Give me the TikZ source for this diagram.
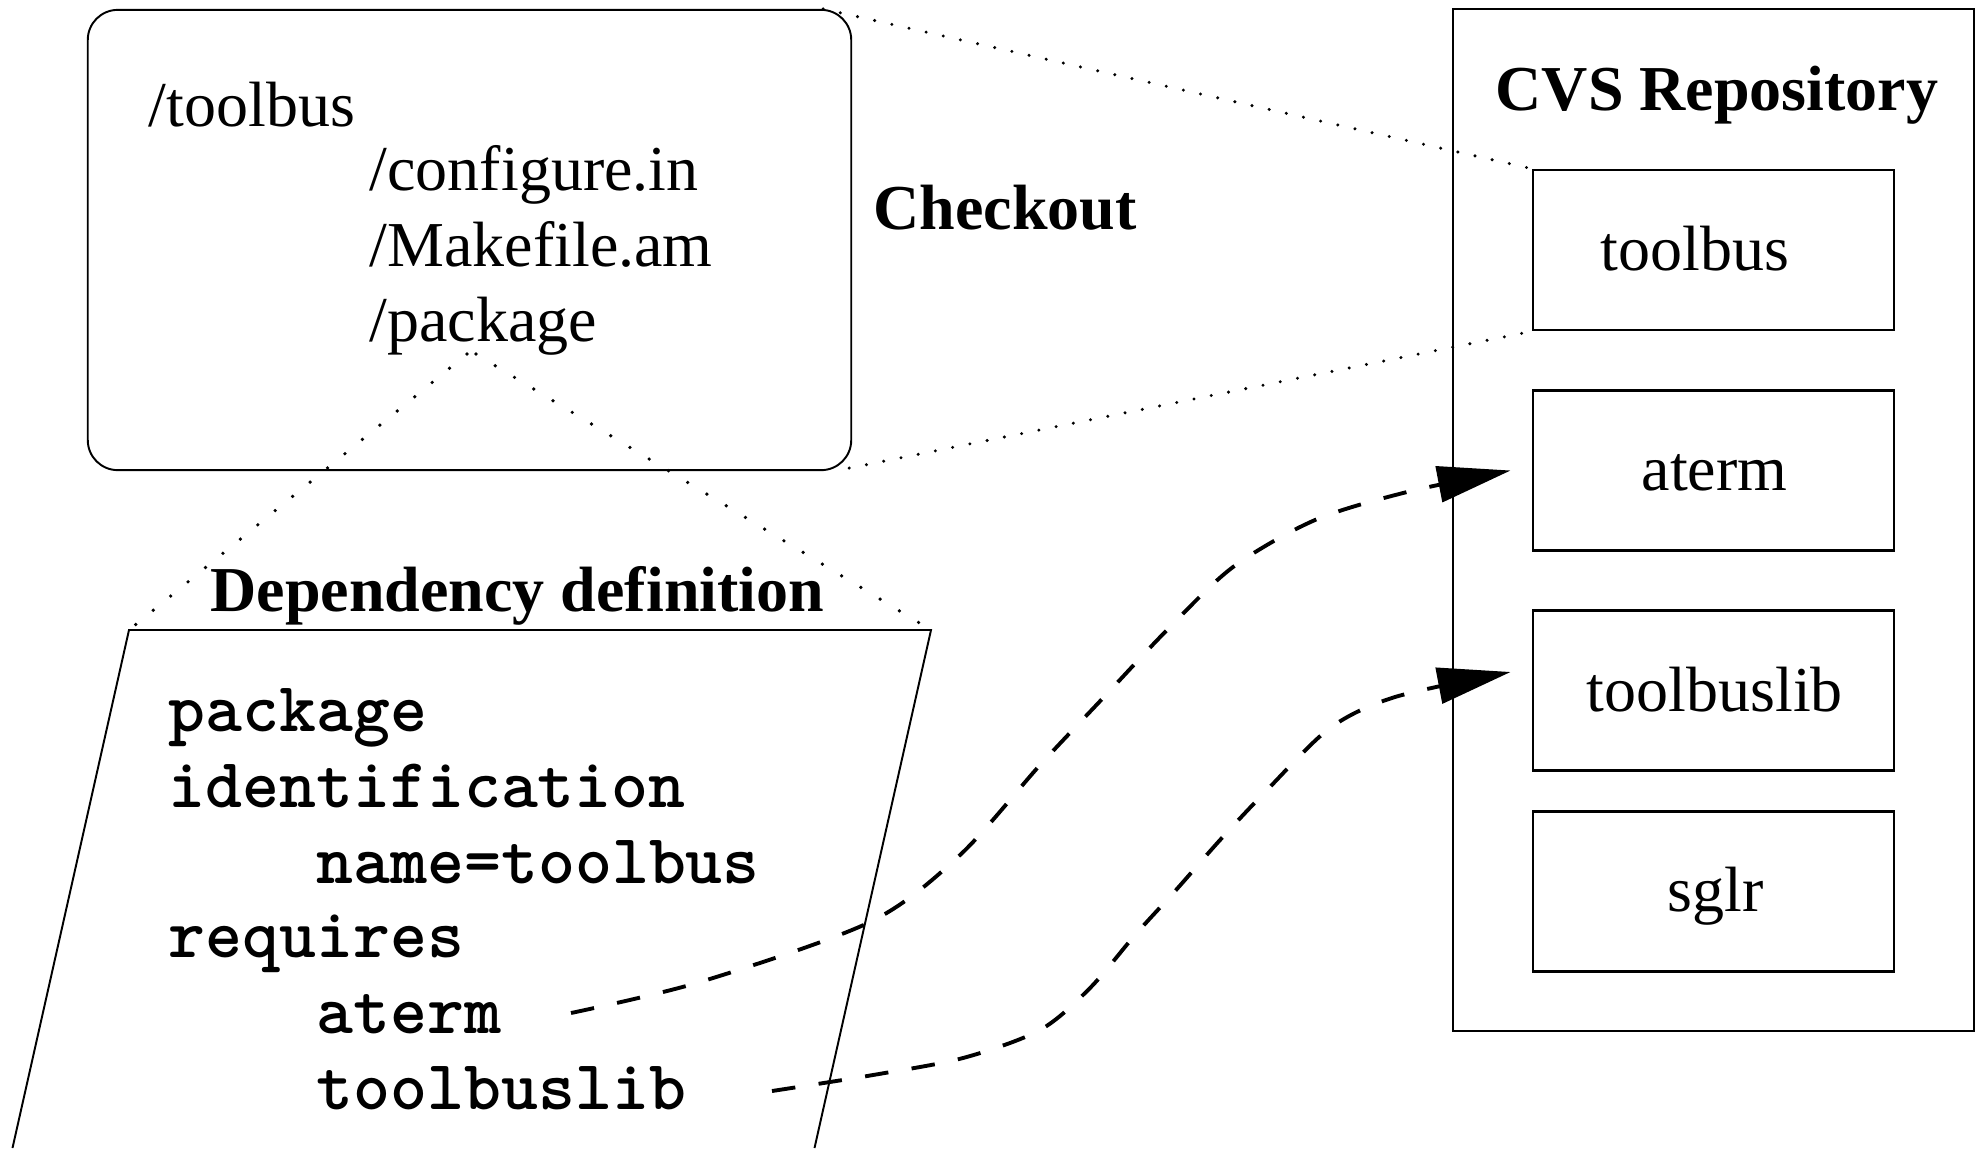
\documentclass[tikz,border=0pt]{standalone}
\usepackage{fontspec}
\setmainfont{Liberation Serif}
\usetikzlibrary{arrows.meta}
\begin{document}
\begin{tikzpicture}[x=0.01cm,y=-0.01cm,
  serif/.style={inner sep=0pt, anchor=base west, font=\fontsize{18.2}{22}\selectfont},
  boldtxt/.style={inner sep=0pt, anchor=base west, font=\fontsize{18.2}{22}\selectfont\bfseries},
  code/.style={inner sep=0pt, anchor=base west, font=\fontsize{20}{24}\selectfont\ttfamily\bfseries},
  thinline/.style={line width=0.55pt},
  repobox/.style={draw, line width=0.75pt, minimum width=3.61cm, minimum height=1.6cm, inner sep=0pt},
  dots/.style={line width=0.95pt, line cap=round, dash pattern=on 0pt off 5pt},
  wdots/.style={line width=1.05pt, line cap=round, dash pattern=on 0pt off 6.4pt},
  dep/.style={line width=1.1pt, dash pattern=on 6.7pt off 6.7pt, -{Triangle[length=0.73cm,width=0.36cm]}}
]
\useasboundingbox (0,0) rectangle (1983,1148);

% working copy box
\node[draw, thinline, rounded corners=0.3cm, minimum width=7.63cm, minimum height=4.6cm, inner sep=0pt] (wc) at (469.5,240) {};
\node[serif] (ftb) at (148,126) {/toolbus};
\node[serif] (fcf) at (369,190) {/configure.in};
\node[serif] (fmk) at (369,266) {/Makefile.am};
\node[serif] (fpk) at (369,341) {/package};

\node[boldtxt] (checkout) at (873,229) {Checkout};

% repository
\node[draw, thinline, minimum width=5.21cm, minimum height=10.22cm, inner sep=0pt] (repo) at (1713.5,520) {};
\node[boldtxt] (repotitle) at (1495,110) {CVS Repository};
\node[repobox] (tb) at (1713.5,250) {};
\node[repobox] (at) at (1713.5,470.5) {};
\node[repobox] (tl) at (1713.5,690.5) {};
\node[repobox] (sg) at (1713.5,891.5) {};
\node[serif] (tbt) at (1600,270) {toolbus};
\node[serif] (att) at (1641,490) {aterm};
\node[serif] (tlt) at (1586,711) {toolbuslib};
\node[serif] (sgt) at (1667,911) {sglr};

% dependency definition
\coordinate (pTL) at (129,630);
\coordinate (pTR) at (931,630);
\coordinate (pBL) at (12.5,1148);
\coordinate (pBR) at (814.5,1148);
\draw[thinline] (pBL) -- (pTL) -- (pTR) -- (pBR);
\node[boldtxt] (deptitle) at (210,611) {Dependency definition};
\node[code] (c1) at (168,731) {package};
\node[code] (c2) at (168,807) {identification};
\node[code] (c3) at (316,883) {name=toolbus};
\node[code] (c4) at (168,957) {requires};
\node[code] (c5) at (316,1033) {aterm};
\node[code] (c6) at (316,1109) {toolbuslib};

% dotted connectors
\coordinate (pk1) at (467,354);
\coordinate (pk2) at (476,354);
\draw[wdots] (pk1) -- (pTL);
\draw[wdots] (pk2) -- (pTR);
\draw[dots] ([xshift=-0.29cm]wc.north east) -- (tb.north west);
\draw[dots] ([xshift=-0.03cm,yshift=0.03cm]wc.south east) -- (tb.south west);

% dependency arrows
\coordinate (s1) at (571,1013);
\coordinate (s2) at (772,1091);
\coordinate (e1) at ([xshift=-0.21cm]at.west);
\coordinate (e2) at ([xshift=-0.21cm,yshift=0.185cm]tl.west);
\draw[dep] plot[smooth] coordinates {(s1) (700,982) (870,922) (960,855) (1040,765) (1103,698) (1167,630) (1233,567) (1315,520) (1407,492) (e1)};
\draw[dep] plot[smooth] coordinates {(s2) (873,1075) (963,1058) (1040,1030) (1090,988) (1135,935) (1176,890) (1220,840) (1267,790) (1330,728) (1395,697) (e2)};
\end{tikzpicture}
\end{document}
